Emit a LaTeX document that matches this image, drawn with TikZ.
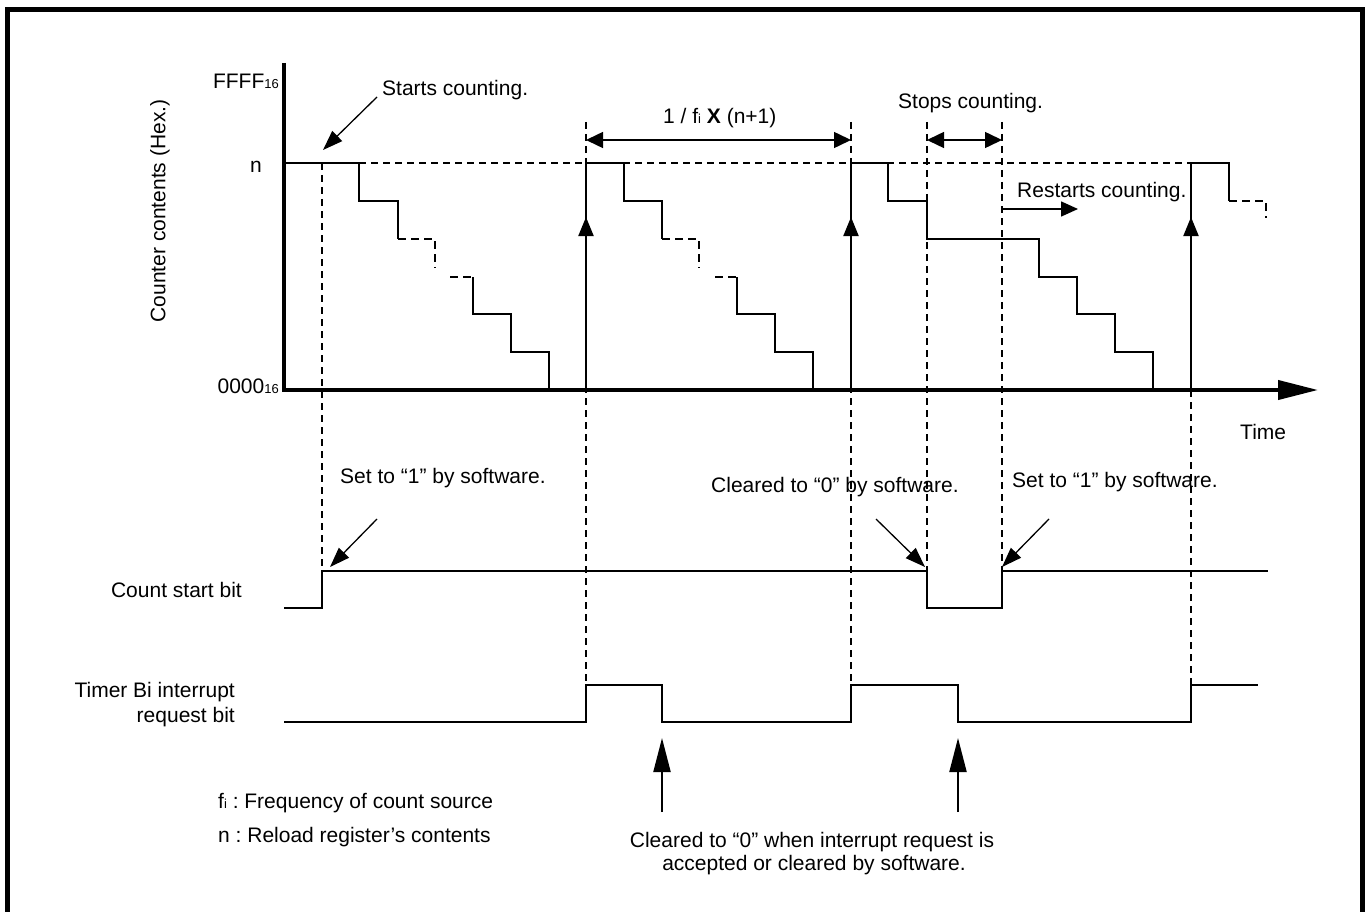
\documentclass[tikz,border=0pt]{standalone}
\usepackage{fontspec}
\setmainfont{Liberation Sans}
\usetikzlibrary{arrows.meta}
\newcommand\smsub[1]{{\fontsize{13}{13}\selectfont #1}}
\frenchspacing
\begin{document}
\begin{tikzpicture}[x=1pt,y=-1pt,
  font=\fontsize{21}{25}\selectfont,
  sig/.style={line width=2pt, line join=miter},
  dsig/.style={sig, dash pattern=on 8pt off 5pt},
  guide/.style={line width=1.3pt, dash pattern=on 7pt off 5pt},
  lbl/.style={inner sep=0pt, anchor=base west},
  rlbl/.style={inner sep=0pt, anchor=base east},
  uptip/.style={-{Triangle[length=19pt,width=15pt]}},
  ptr/.style={line width=1.3pt, -{Triangle[length=20pt,width=14pt]}},
  dimarrow/.style={line width=1.5pt, {Triangle[length=17pt,width=16pt]}-{Triangle[length=17pt,width=16pt]}},
  bigup/.style={line width=2pt, -{Triangle[length=34pt,width=17pt]}}
]
\useasboundingbox (0,0) rectangle (1367,912);
% frame
\draw[line width=4.5pt] (7.5,912) -- (7.5,9.5) -- (1362.5,9.5) -- (1362.5,912);

% axes
\coordinate (yTop) at (284,63);
\coordinate (yBot) at (284,392);
\coordinate (xL) at (282,390);
\coordinate (xR) at (1318,390);
\draw[line width=4pt] (yTop) -- (yBot);
\draw[line width=4pt, -{Triangle[length=40pt,width=19pt]}] (xL) -- (xR);

% axis labels
\node[rlbl] (ffff) at (279,89) {FFFF\smsub{16}};
\node[inner sep=0pt, anchor=base] (nlev) at (256,173) {n};
\node[rlbl] (zero) at (279,393) {0000\smsub{16}};
\node[rotate=90, inner sep=0pt] (ylab) at (160,211) {Counter contents (Hex.)};
\node[lbl] (time) at (1240,439) {Time};

% n level dashed reference
\draw[guide] (359,163) -- (1191,163);

% guide lines
\draw[guide] (322,163) -- (322,571);
\draw[guide] (586,122) -- (586,685);
\draw[guide] (851,122) -- (851,685);
\draw[guide] (927,122) -- (927,571);
\draw[guide] (1002,122) -- (1002,571);
\draw[guide] (1191,390) -- (1191,685);

% counter cycle 1
\draw[sig] (284,163) -- (359,163) -- (359,201) -- (398,201) -- (398,239);
\draw[dsig] (398,239) -- (435,239) -- (435,268);
\draw[dsig] (450,277) -- (473,277);
\draw[sig] (473,277) -- (473,314) -- (511,314) -- (511,352) -- (549,352) -- (549,390);
% cycle 2
\draw[sig] (586,390) -- (586,163) -- (624,163) -- (624,201) -- (662,201) -- (662,239);
\draw[dsig] (662,239) -- (699,239) -- (699,268);
\draw[dsig] (715,277) -- (737,277);
\draw[sig] (737,277) -- (737,314) -- (775,314) -- (775,352) -- (813,352) -- (813,390);
\draw[sig, uptip] (586,260) -- (586,217);
% cycle 3
\draw[sig] (851,390) -- (851,163) -- (888,163) -- (888,201) -- (927,201) -- (927,239) -- (1039,239) -- (1039,277) -- (1077,277) -- (1077,314) -- (1115,314) -- (1115,352) -- (1153,352) -- (1153,390);
\draw[sig, uptip] (851,260) -- (851,217);
% cycle 4
\draw[sig] (1191,390) -- (1191,163) -- (1229,163) -- (1229,201);
\draw[dsig] (1229,201) -- (1266,201) -- (1266,218);
\draw[sig, uptip] (1191,260) -- (1191,217);

% dimension arrows
\coordinate (p1l) at (586,140);
\coordinate (p1r) at (851,140);
\draw[dimarrow] (p1l) -- (p1r);
\node[lbl] (period) at (663,124) {1 / f\smsub{i} \textbf{X} (n+1)};
\coordinate (s1l) at (927,140);
\coordinate (s1r) at (1002,140);
\draw[dimarrow] (s1l) -- (s1r);
\node[lbl] (stops) at (898,109) {Stops counting.};
\coordinate (r1a) at (1002,209);
\coordinate (r1b) at (1078,209);
\draw[line width=1.5pt, -{Triangle[length=17pt,width=15pt]}] (r1a) -- (r1b);
\node[lbl] (restart) at (1017,197) {Restarts counting.};

% starts counting
\node[lbl] (starts) at (382,96) {Starts counting.};
\coordinate (st1) at (377,97);
\coordinate (st2) at (323,150);
\draw[ptr] (st1) -- (st2);

% count start bit
\draw[sig] (284,608) -- (322,608) -- (322,571) -- (927,571) -- (927,608) -- (1002,608) -- (1002,571) -- (1268,571);
\node[rlbl] (csb) at (242,597) {Count start bit};
\node[lbl] (set1) at (340,483) {Set to “1” by software.};
\coordinate (a1) at (377,519); \coordinate (a1t) at (330,567);
\draw[ptr] (a1) -- (a1t);
\node[lbl] (clr1) at (711,492) {Cleared to “0” by software.};
\coordinate (a2) at (876,519); \coordinate (a2t) at (925,567);
\draw[ptr] (a2) -- (a2t);
\node[lbl] (set2) at (1012,487) {Set to “1” by software.};
\coordinate (a3) at (1049,519); \coordinate (a3t) at (1002,567);
\draw[ptr] (a3) -- (a3t);

% interrupt request bit
\draw[sig] (284,722) -- (586,722) -- (586,685) -- (662,685) -- (662,722) -- (851,722) -- (851,685) -- (958,685) -- (958,722) -- (1191,722) -- (1191,685) -- (1258,685);
\node[rlbl] (tbi1) at (235,697) {Timer Bi interrupt};
\node[rlbl] (tbi2) at (235,722) {request bit};

% bottom arrows
\coordinate (b1) at (662,812); \coordinate (b1t) at (662,738);
\coordinate (b2) at (958,812); \coordinate (b2t) at (958,738);
\draw[bigup] (b1) -- (b1t);
\draw[bigup] (b2) -- (b2t);
\node[inner sep=0pt, anchor=base] (clr2a) at (812,847) {Cleared to “0” when interrupt request is};
\node[inner sep=0pt, anchor=base] (clr2b) at (814,870) {accepted or cleared by software.};

% legend
\node[lbl] (leg1) at (218,808) {f\smsub{i} : Frequency of count source};
\node[lbl] (leg2) at (218,842) {n : Reload register’s contents};
\end{tikzpicture}
\end{document}
